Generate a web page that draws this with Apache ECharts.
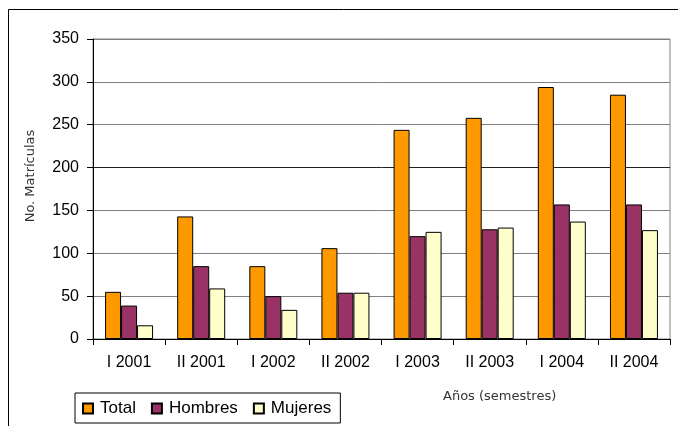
<!DOCTYPE html>
<html>
<head>
<meta charset="utf-8">
<script src="https://cdn.jsdelivr.net/npm/echarts@6/dist/echarts.min.js"></script>
<style>
html,body{margin:0;padding:0;background:#fff;}
#c{width:678px;height:426px;}
</style>
</head>
<body>
<div id="c"></div>
<script>
var categories = ['I 2001','II 2001','I 2002','II 2002','I 2003','II 2003','I 2004','II 2004'];
var total = [55, 143, 85, 106, 244, 258, 294, 285];
var hombres = [39, 85, 50, 54, 120, 128, 157, 157];
var mujeres = [16, 59, 34, 54, 125, 130, 137, 127];
var yTicks = [0, 50, 100, 150, 200, 250, 300, 350];

var chart = echarts.init(document.getElementById('c'), null, {renderer:'canvas'});
var gridColors = ['#808080','#808080','#808080','#808080','#222','#808080','#808080','#808080'];
chart.setOption({
  animation:false,
  backgroundColor:'#fff',
  graphic:[{
    type:'rect', shape:{x:8.5,y:9.5,width:720,height:500},
    style:{fill:'none',stroke:'#000',lineWidth:1}, silent:true, z:-1
  },{
    type:'text', left:443, top:390,
    style:{text:'Años (semestres)', font:'13px "DejaVu Sans"', fill:'#333'}
  },{
    type:'text', x:31, y:176, rotation:Math.PI/2,
    style:{text:'No. Matrículas', font:'13px "DejaVu Sans"', fill:'#333',
      align:'center', verticalAlign:'middle', textAlign:'center', textVerticalAlign:'middle'}
  }],
  grid:{left:93, right:8, top:39, bottom:87, show:true, borderColor:'#808080', borderWidth:1},
  legend:{
    left:75, top:393, padding:[7,9,6,7], itemGap:15, itemWidth:10, itemHeight:10,
    borderColor:'#000', borderWidth:1, icon:'rect',
    textStyle:{fontFamily:'Liberation Sans', fontSize:17, color:'#000', padding:[0,0,0,2]},
    data:['Total','Hombres','Mujeres']
  },
  xAxis:{
    type:'category', data:categories,
    axisLine:{lineStyle:{color:'#000'}},
    axisTick:{show:true, length:6, lineStyle:{color:'#000'}},
    axisLabel:{fontFamily:'Liberation Sans', fontSize:16, color:'#000', margin:16}
  },
  yAxis:{
    type:'value', min:0, max:350, interval:50,
    axisLine:{show:true, lineStyle:{color:'#000'}},
    axisTick:{show:true, length:6, lineStyle:{color:'#000'}},
    axisLabel:{fontFamily:'Liberation Sans', fontSize:16, color:'#000', margin:14,
      formatter:function(v){return yTicks.indexOf(v)>=0 ? String(v) : '';}},
    splitLine:{show:true, lineStyle:{color:gridColors, width:1}}
  },
  series:[
    {name:'Total', type:'bar', data:total, barWidth:16, barGap:'0%',
     itemStyle:{color:'#FF9900', borderColor:'#000', borderWidth:1}},
    {name:'Hombres', type:'bar', data:hombres, barWidth:16, barGap:'0%',
     itemStyle:{color:'#993366', borderColor:'#000', borderWidth:1}},
    {name:'Mujeres', type:'bar', data:mujeres, barWidth:16, barGap:'0%',
     itemStyle:{color:'#FFFFCC', borderColor:'#000', borderWidth:1}}
  ]
});
</script>
</body>
</html>
